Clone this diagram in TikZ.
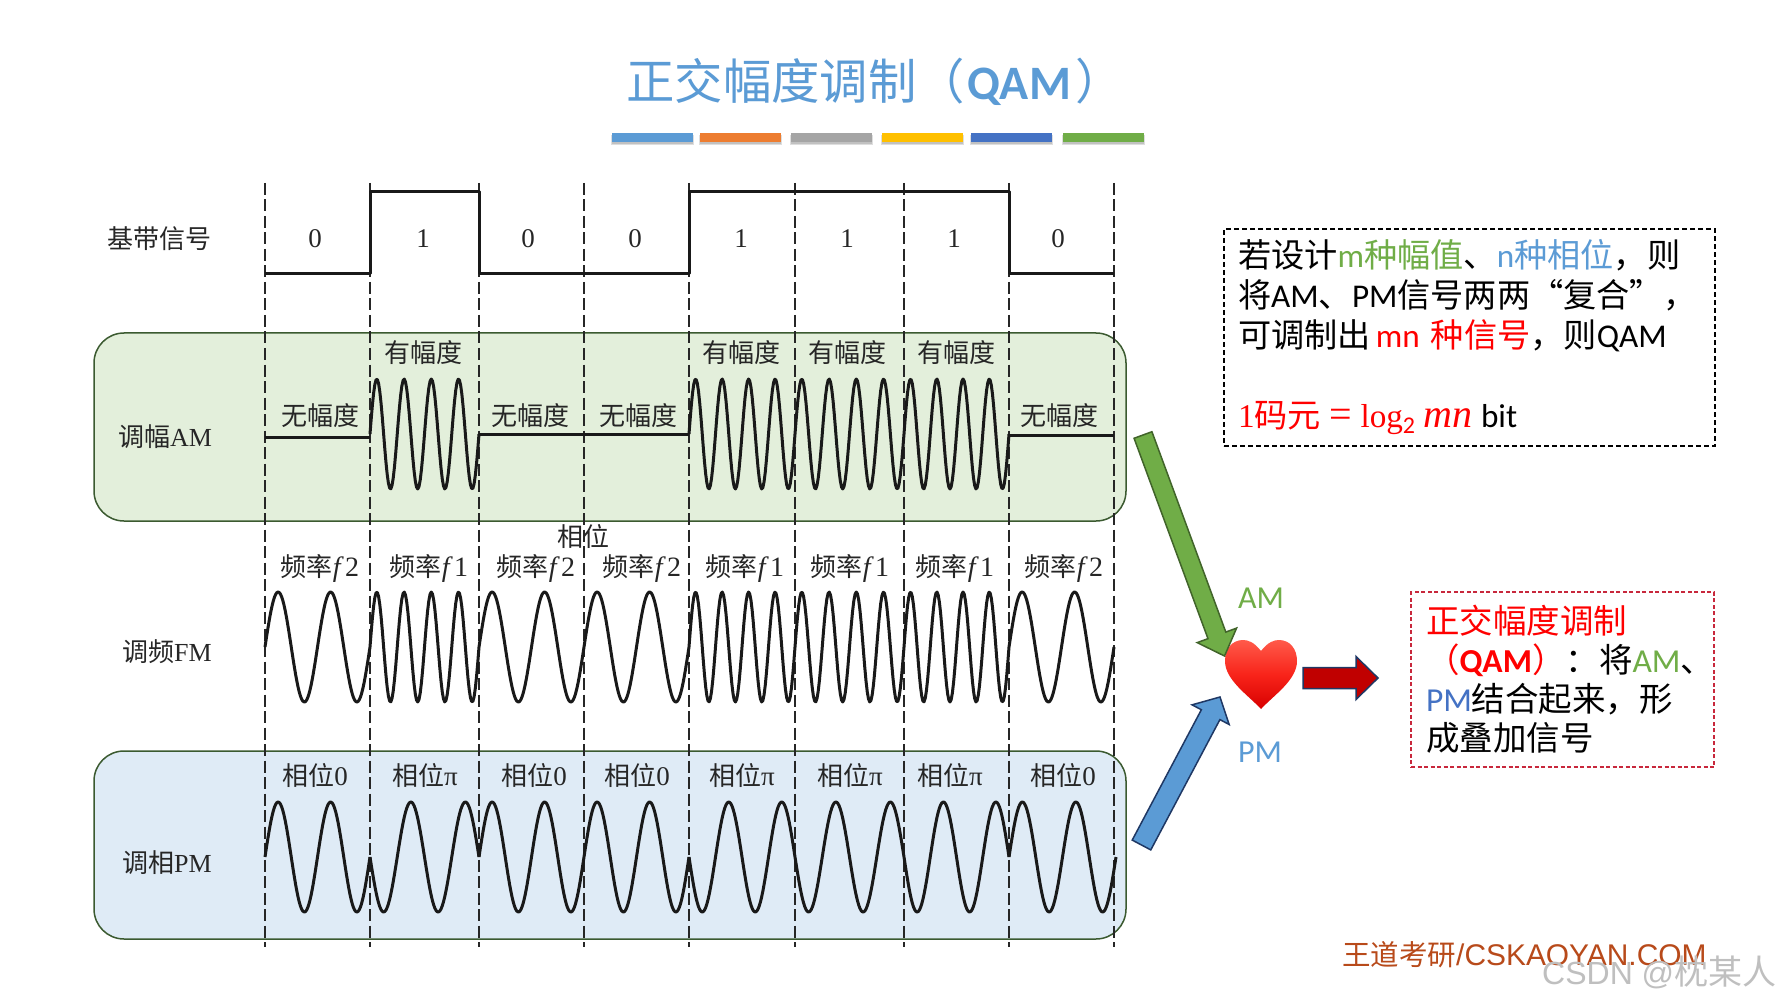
\documentclass[tikz,border=0pt]{standalone}
\usepackage{fontspec}
\setmainfont{Carlito}
\newfontfamily\cn{Noto Sans CJK SC}
\newfontfamily\tm{Liberation Serif}
\newfontfamily\ar{Liberation Sans}
\usetikzlibrary{calc}
\definecolor{tblue}{HTML}{5B9BD5}
\definecolor{torange}{HTML}{ED7D31}
\definecolor{tgray}{HTML}{A5A5A5}
\definecolor{tyellow}{HTML}{FFC000}
\definecolor{tdblue}{HTML}{4472C4}
\definecolor{tgreen}{HTML}{70AD47}
\definecolor{amfill}{HTML}{E3EFDB}
\definecolor{pmfill}{HTML}{DFEBF6}
\definecolor{boxedge}{HTML}{3B5A30}
\definecolor{redbox}{HTML}{C8283C}
\definecolor{wmark}{HTML}{B84A1A}
\definecolor{navyedge}{HTML}{1F3864}
\definecolor{greenedge}{HTML}{41642A}
\definecolor{hearttop}{HTML}{FF5A4A}
\definecolor{heartmid}{HTML}{F8241A}
\definecolor{heartbot}{HTML}{D80000}
\definecolor{outred}{HTML}{C00000}
\newcommand{\fs}[1]{\fontsize{#1}{#1}\selectfont}
\tikzset{
  x=1pt,y=-1pt,
  bandbox/.style={rounded corners=30pt,draw=boxedge,line width=1.5pt},
  slotline/.style={dashed,dash pattern=on 12pt off 4.5pt,line width=1.5pt,black!85},
  sig/.style={line width=3pt,black!90,line join=round},
  lbl/.style={inner sep=0pt,font=\cn\fs{26},black!85},
  digit/.style={inner sep=0pt,font=\tm\fs{27},black!85},
  bar/.style={fill=#1,draw=none},
  barshade/.style={fill=black,opacity=0.13,draw=none},
  txtbox/.style={draw=black,dashed,dash pattern=on 5pt off 3pt,line width=1.5pt,align=left,inner ysep=0pt,inner xsep=14pt},
}
% one bit of carrier: x0,x1,centre,cycles,sign
\newcommand{\carrier}[5]{\draw[sig] plot[domain=#1:#2,samples=90] (\x,{#3-(#5)*55*sin(360*#4*((\x-#1)/(#2-#1)))});}
% block arrow: tail,tip,shaft width,head width,head length,fill,edge
\newcommand{\blockarrow}[7]{%
  \coordinate (neck) at ($(#2)!#5pt!(#1)$);
  \draw[fill=#6,draw=#7,line width=1.5pt,line join=miter]
    ($(#1)!#3/2 pt!90:(#2)$) -- ($(neck)!#3/2 pt!-90:(#1)$) -- ($(neck)!#4/2 pt!-90:(#1)$) -- (#2)
    -- ($(neck)!#4/2 pt!90:(#1)$) -- ($(neck)!#3/2 pt!90:(#1)$) -- ($(#1)!#3/2 pt!-90:(#2)$) -- cycle;}
\begin{document}
\begin{tikzpicture}
\useasboundingbox (0,0) rectangle (1778,1000);
\fill[white] (0,0) rectangle (1778,1000);

% title
\node[anchor=west,inner sep=0pt,text=tblue,font=\fs{48}] (title) at (626,82) {{\fontsize{48.4}{48}\cn 正交幅度调制（}\hspace{2pt}\textbf{QAM}\hspace{5pt}{\fontsize{48.4}{48}\cn ）}};
\foreach \a/\b/\c in {612/693/tblue,700/781/torange,791/872/tgray,882/963/tyellow,971/1052/tdblue,1063/1144/tgreen}{
  \fill[barshade] (\a-1,135) rectangle (\b+1,145);
  \fill[barshade] (\a,135) rectangle (\b,144);
  \fill[bar=\c] (\a,133) rectangle (\b,142);
}

% bands
\draw[bandbox,fill=amfill] (94,333) rectangle (1126,521);
\draw[bandbox,fill=pmfill] (94,751) rectangle (1126,939);

% slot lines
\foreach \x in {265,370,479,584,689,795,904,1009,1114}
  \draw[slotline] (\x,183) -- (\x,947);

% baseband
\draw[sig] (265,274) -- (370,274) -- (370,192) -- (479,192) -- (479,274) -- (689,274) -- (689,192) -- (1009,192) -- (1009,274) -- (1114,274);

% AM
\draw[sig] (265,437) -- (370,437);
\carrier{370}{479}{434}{4}{1}
\draw[sig] (479,434) -- (689,434);
\carrier{689}{795}{434}{4}{1}
\carrier{795}{904}{434}{4}{1}
\carrier{904}{1009}{434}{4}{1}
\draw[sig] (1009,435) -- (1114,435);

% FM
\carrier{265}{370}{647}{2}{1}
\carrier{370}{479}{647}{4}{1}
\carrier{479}{584}{647}{2}{1}
\carrier{584}{689}{647}{2}{1}
\carrier{689}{795}{647}{4}{1}
\carrier{795}{904}{647}{4}{1}
\carrier{904}{1009}{647}{4}{1}
\carrier{1009}{1114}{647}{2}{1}

% PM
\carrier{265}{370}{857}{2}{1}
\carrier{370}{479}{857}{2}{-1}
\carrier{479}{584}{857}{2}{1}
\carrier{584}{689}{857}{2}{1}
\carrier{689}{795}{857}{2}{-1}
\carrier{795}{904}{857}{2}{-1}
\carrier{904}{1009}{857}{2}{-1}
\carrier{1009}{1116}{857}{2}{1}

% row labels
\node[lbl] (rbase) at (159,239) {基带信号};
\node[lbl] (ram) at (165,437) {调幅{\tm AM}};
\node[lbl] (rfm) at (167,652) {调频{\tm FM}};
\node[lbl] (rpm) at (167,863) {调相{\tm PM}};

% bits
\foreach \x/\t [count=\i] in {315/0,423/1,528/0,635/0,741/1,847/1,954/1,1058/0}
  \node[digit] (bit\i) at (\x,239) {\t};

% amplitude labels
\foreach \x/\y/\t [count=\i] in {320/416/无幅度,423/353/有幅度,530/416/无幅度,638/416/无幅度,741/353/有幅度,847/353/有幅度,956/353/有幅度,1059/416/无幅度}
  \node[lbl] (amp\i) at (\x,\y) {\t};

\node[lbl] (phasehead) at (583,537) {相位};

% frequency labels
\foreach \x/\t [count=\i] in {320/2,429/1,536/2,642/2,745/1,850/1,955/1,1064/2}
  \node[lbl] (freq\i) at (\x,568) {频率{\tm\itshape\fs{28}f\,}{\tm\fs{28}\t}};

% phase labels
\foreach \x/\t [count=\i] in {315/0,425/π,534/0,637/0,742/π,850/π,950/π,1063/0}
  \node[lbl] (ph\i) at (\x,776) {相位{\tm\fs{27}\t}};

% right text boxes
\node[txtbox,minimum width=491pt,minimum height=217pt,text width=463pt,font=\fontsize{33.2}{40}\selectfont] (note) at (1469.5,337.5) {%
  {\cn 若设计}\textcolor{tgreen}{m{\cn 种幅值}}{\cn 、}\textcolor{tblue}{n{\cn 种相位}}{\cn ，则}\\
  {\cn 将}AM{\cn 、}PM{\cn 信号两两“复合”，}\\
  {\cn 可调制出}\hspace{5pt}\textcolor{red}{mn {\cn 种信号}}{\cn ，则}QAM\\
  \mbox{}\\
  \textcolor{red}{{\tm 1}{\cn 码元}\hspace{8pt}{\tm\fs{40}=}\hspace{9pt}{\tm log}\raisebox{-6pt}{\fontsize{24}{24}\selectfont 2}\hspace{8pt}{\tm\itshape\fs{40}mn}}\hspace{9pt}bit};

\node[txtbox,draw=redbox,dash pattern=on 4pt off 2.5pt,minimum width=303pt,minimum height=175pt,text width=273pt,inner xsep=15pt,font=\fontsize{33.5}{39}\selectfont] (summary) at (1562.5,679.5) {%
  \textcolor{red}{\cn 正交幅度调制}\\
  \textcolor{red}{{\cn （}\textbf{QAM}{\cn ）}}{\cn ：将}\textcolor{tgreen}{AM}{\cn 、}\\
  \textcolor{tdblue}{PM}{\cn 结合起来，形}\\
  {\cn 成叠加信号}};

% heart
\shade[top color=hearttop,bottom color=heartbot,middle color=heartmid]
  (1261,651) .. controls (1254,642) and (1248,640) .. (1243,640)
  .. controls (1232,640) and (1225,649) .. (1225,661)
  .. controls (1225,680) and (1248,695) .. (1261,709)
  .. controls (1274,695) and (1297,680) .. (1297,661)
  .. controls (1297,649) and (1290,640) .. (1279,640)
  .. controls (1274,640) and (1268,642) .. (1261,651) -- cycle;

% block arrows
\coordinate (amtail) at (1143,435);
\coordinate (amtip) at (1224.5,656);
\coordinate (pmtail) at (1141.5,845);
\coordinate (pmtip) at (1220,697);
\coordinate (outtail) at (1303,678);
\coordinate (outtip) at (1378,678);
\blockarrow{amtail}{amtip}{19}{42}{22}{tgreen}{greenedge}
\blockarrow{pmtail}{pmtip}{21}{42}{20}{tblue}{navyedge}
\blockarrow{outtail}{outtip}{21}{43}{22}{outred}{navyedge}

\node[inner sep=0pt,text=tgreen,font=\fs{32}] (amlabel) at (1261,598) {AM};
\node[inner sep=0pt,text=tblue,font=\fs{32}] (pmlabel) at (1260,752) {PM};

% credits
\node[anchor=west,inner sep=0pt,text=wmark] (credit) at (1342,955) {{\cn\fs{28.5}王道考研}{\ar\fs{29.9}/CSKAOYAN.COM}};
\node[anchor=west,inner sep=0pt,text=black!25] (csdn) at (1542,972) {{\ar\fs{32}CSDN @}{\cn\fs{34}枕某人}};
\end{tikzpicture}
\end{document}
